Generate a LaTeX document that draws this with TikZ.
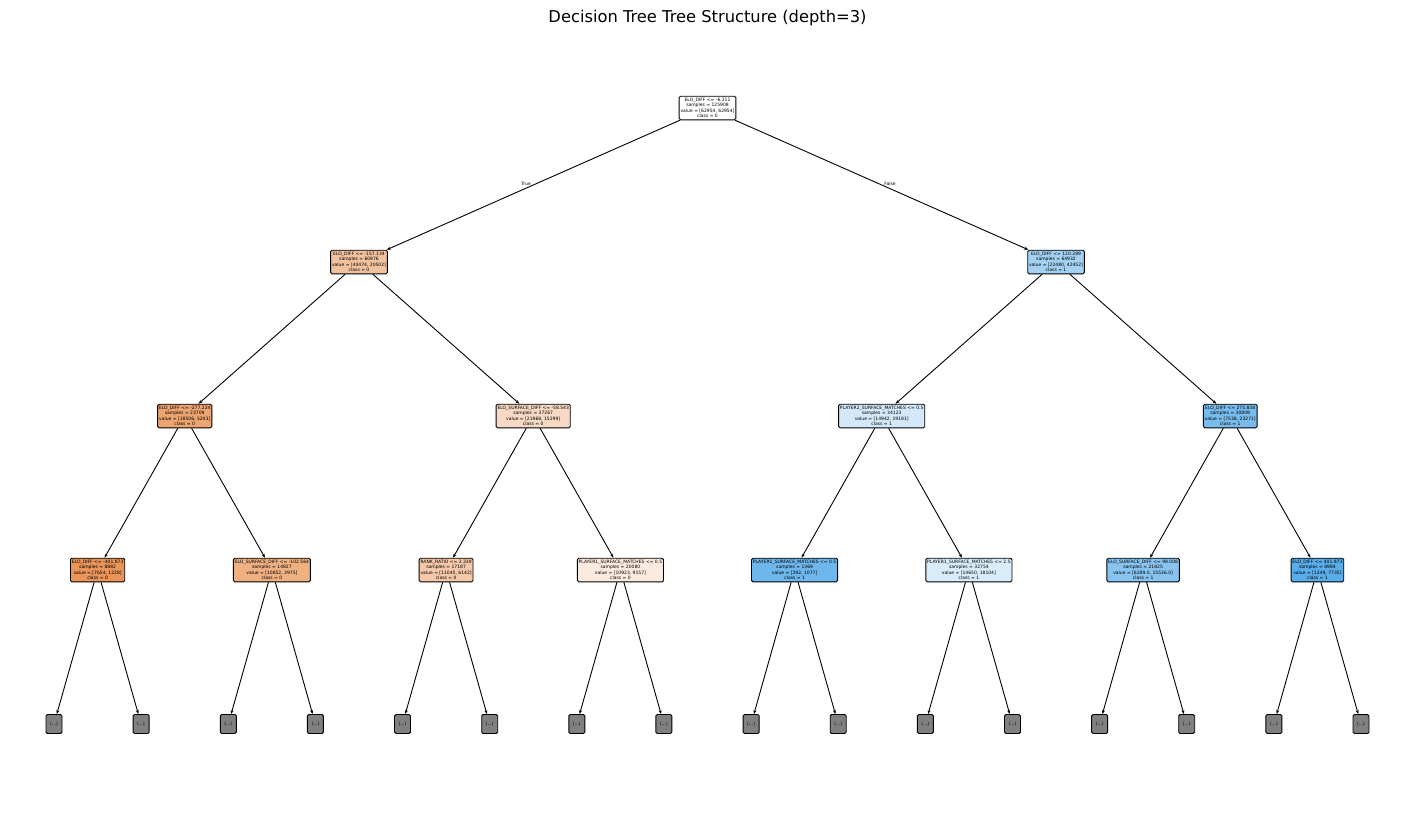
\documentclass[tikz,border=0pt]{standalone}
\usepackage{fontspec}
\setmainfont{DejaVu Sans}
\usetikzlibrary{arrows.meta}
\definecolor{cls0}{RGB}{229,129,57}
\definecolor{cls1}{RGB}{57,157,229}
\tikzstyle{split}=[draw,rounded corners=1.4pt,align=center,inner xsep=1.35pt,inner ysep=2pt,line width=0.9pt,font=\fontsize{4.5}{5.4}\selectfont]
\tikzstyle{leaf}=[split,fill=gray,minimum width=16pt,minimum height=19pt,inner sep=0pt]
\tikzstyle{edge}=[draw,line width=0.9pt,-{Stealth[length=4pt,width=3pt]}]
\tikzstyle{branch}=[font=\fontsize{4.5}{5.4}\selectfont]

\begin{document}
\begin{tikzpicture}[x=1pt,y=-1pt]
    \fill[white] (0,0) rectangle (1415,812);
    \useasboundingbox (0,0) rectangle (1415,812);
    \node[font=\fontsize{16.3}{19}\selectfont] (title) at (707.5,18) {Decision Tree Tree Structure (depth=3)};
        % depth 0 and 1
        \node[split,fill=white] (0) at (707.5,108) {ELO\_DIFF <= -6.211\\samples = 125908\\value = [62954, 62954]\\class = 0};
        \node[split,fill=cls0!49!white] (1) at (359,262) {ELO\_DIFF <= -157.134\\samples = 60976\\value = [40474, 20502]\\class = 0};
        \node[split,fill=cls1!47!white] (2) at (1056,262) {ELO\_DIFF <= 120.289\\samples = 64932\\value = [22480, 42452]\\class = 1};
        % depth 2
        \node[split,fill=cls0!72!white] (3) at (184.7,416) {ELO\_DIFF <= -277.224\\samples = 23709\\value = [18506, 5203]\\class = 0};
        \node[split,fill=cls0!30!white] (4) at (533.2,416) {ELO\_SURFACE\_DIFF <= -58.543\\samples = 37267\\value = [21968, 15299]\\class = 0};
        \node[split,fill=cls1!22!white] (5) at (881.7,416) {PLAYER2\_SURFACE\_MATCHES <= 0.5\\samples = 34123\\value = [14942, 19181]\\class = 1};
        \node[split,fill=cls1!68!white] (6) at (1230.2,416) {ELO\_DIFF <= 275.838\\samples = 30809\\value = [7538, 23271]\\class = 1};
        % depth 3
        \node[split,fill=cls0!84!white] (7) at (97.6,570) {ELO\_DIFF <= -401.873\\samples = 8882\\value = [7654, 1228]\\class = 0};
        \node[split,fill=cls0!63!white] (8) at (271.9,570) {ELO\_SURFACE\_DIFF <= -102.564\\samples = 14827\\value = [10852, 3975]\\class = 0};
        \node[split,fill=cls0!44!white] (9) at (446.1,570) {RANK\_RATIO <= 2.339\\samples = 17187\\value = [11045, 6142]\\class = 0};
        \node[split,fill=cls0!16!white] (10) at (620.4,570) {PLAYER1\_SURFACE\_MATCHES <= 0.5\\samples = 20080\\value = [10923, 9157]\\class = 0};
        \node[split,fill=cls1!73!white] (11) at (794.6,570) {PLAYER1\_SURFACE\_MATCHES <= 0.5\\samples = 1369\\value = [292, 1077]\\class = 1};
        \node[split,fill=cls1!19!white] (12) at (968.9,570) {PLAYER1\_SURFACE\_MATCHES <= 2.5\\samples = 32754\\value = [14650, 18104]\\class = 1};
        \node[split,fill=cls1!60!white] (13) at (1143.1,570) {ELO\_SURFACE\_DIFF <= 98.008\\samples = 21825\\value = [6289.0, 15536.0]\\class = 1};
        \node[split,fill=cls1!84!white] (14) at (1317.4,570) {ELO\_DIFF <= 401.973\\samples = 8984\\value = [1249, 7735]\\class = 1};
        % truncated
        \node[leaf] (l1) at (54,724) {(...)};
        \node[leaf] (l2) at (141.1,724) {(...)};
        \node[leaf] (l3) at (228.3,724) {(...)};
        \node[leaf] (l4) at (315.4,724) {(...)};
        \node[leaf] (l5) at (402.5,724) {(...)};
        \node[leaf] (l6) at (489.7,724) {(...)};
        \node[leaf] (l7) at (576.8,724) {(...)};
        \node[leaf] (l8) at (663.9,724) {(...)};
        \node[leaf] (l9) at (751.1,724) {(...)};
        \node[leaf] (l10) at (838.2,724) {(...)};
        \node[leaf] (l11) at (925.3,724) {(...)};
        \node[leaf] (l12) at (1012.5,724) {(...)};
        \node[leaf] (l13) at (1099.6,724) {(...)};
        \node[leaf] (l14) at (1186.7,724) {(...)};
        \node[leaf] (l15) at (1273.9,724) {(...)};
        \node[leaf] (l16) at (1361,724) {(...)};
        \path[edge] (0) -- (1);
        \path[edge] (0) -- (2);
        \node[branch] (true) at (526,184) {True};
        \node[branch] (false) at (890,184) {False};
        \path[edge] (1) -- (3);
        \path[edge] (1) -- (4);
        \path[edge] (2) -- (5);
        \path[edge] (2) -- (6);
        \path[edge] (3) -- (7);
        \path[edge] (3) -- (8);
        \path[edge] (4) -- (9);
        \path[edge] (4) -- (10);
        \path[edge] (5) -- (11);
        \path[edge] (5) -- (12);
        \path[edge] (6) -- (13);
        \path[edge] (6) -- (14);
        \path[edge] (7) -- (l1);
        \path[edge] (7) -- (l2);
        \path[edge] (8) -- (l3);
        \path[edge] (8) -- (l4);
        \path[edge] (9) -- (l5);
        \path[edge] (9) -- (l6);
        \path[edge] (10) -- (l7);
        \path[edge] (10) -- (l8);
        \path[edge] (11) -- (l9);
        \path[edge] (11) -- (l10);
        \path[edge] (12) -- (l11);
        \path[edge] (12) -- (l12);
        \path[edge] (13) -- (l13);
        \path[edge] (13) -- (l14);
        \path[edge] (14) -- (l15);
        \path[edge] (14) -- (l16);
    \end{tikzpicture}
\end{document}
